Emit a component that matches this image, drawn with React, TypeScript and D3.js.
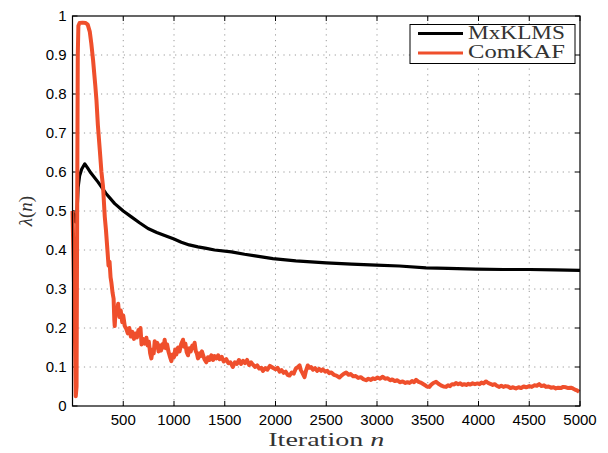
import React from 'react';
import * as d3 from 'd3';

// iteration / lambda(n)
const mxklmsPoints: [number, number][] = [
  [0, 0.5], [15, 0.49], [30, 0.472], [42, 0.48], [55, 0.56], [70, 0.59], [90, 0.607], [121, 0.621],
  [150, 0.61], [180, 0.598], [252, 0.574], [330, 0.545], [416, 0.519], [500, 0.5], [580, 0.485],
  [660, 0.47], [744, 0.455], [830, 0.445], [908, 0.437], [1000, 0.428], [1072, 0.42], [1150, 0.413],
  [1236, 0.408], [1320, 0.404], [1400, 0.4], [1565, 0.395], [1695, 0.389], [1800, 0.385],
  [1974, 0.378], [2200, 0.372], [2500, 0.367], [2750, 0.364], [2991, 0.361], [3220, 0.359],
  [3483, 0.354], [3700, 0.353], [3975, 0.351], [4250, 0.35], [4500, 0.35], [4750, 0.349], [5000, 0.348],
];

const comkafPoints: [number, number][] = [
  [0, 0.5], [10, 0.38], [23, 0.2], [32, 0.025], [40, 0.05], [46, 0.5], [52, 0.9], [58, 0.975],
  [70, 0.982], [100, 0.983], [130, 0.982], [150, 0.978], [170, 0.96], [185, 0.93], [203, 0.886],
  [215, 0.85], [225, 0.82], [236, 0.784], [250, 0.72], [269, 0.656], [285, 0.6], [301, 0.562],
  [318, 0.485], [330, 0.45], [344, 0.4], [355, 0.36], [365, 0.37], [375, 0.33], [384, 0.315],
  [395, 0.29], [405, 0.275], [412, 0.22], [416, 0.205], [425, 0.25], [435, 0.235],
  [450, 0.262], [462, 0.228], [475, 0.245], [490, 0.215], [500, 0.232], [515, 0.205], [530, 0.198],
  [545, 0.186], [560, 0.2], [575, 0.178], [590, 0.19], [605, 0.172], [620, 0.186], [635, 0.176],
  [650, 0.195], [662, 0.182], [670, 0.2], [680, 0.158], [695, 0.172], [710, 0.16], [728, 0.175],
  [740, 0.155], [752, 0.165], [765, 0.135], [777, 0.122], [790, 0.145], [800, 0.135], [810, 0.166],
  [822, 0.15], [835, 0.162], [848, 0.14], [860, 0.155], [872, 0.142], [885, 0.158], [897, 0.15],
  [908, 0.17], [920, 0.148], [932, 0.158], [945, 0.14], [958, 0.128], [974, 0.115], [985, 0.132],
  [1000, 0.125], [1012, 0.145], [1023, 0.132], [1040, 0.15], [1055, 0.14], [1070, 0.158],
  [1089, 0.17], [1100, 0.152], [1112, 0.16], [1125, 0.138], [1138, 0.13], [1150, 0.148],
  [1165, 0.14], [1180, 0.155], [1192, 0.148], [1203, 0.162], [1215, 0.14], [1225, 0.135],
  [1236, 0.122], [1250, 0.135], [1262, 0.128], [1275, 0.14], [1285, 0.132], [1300, 0.12],
  [1318, 0.112], [1335, 0.125], [1350, 0.118], [1368, 0.13], [1385, 0.118], [1400, 0.128],
  [1417, 0.122], [1435, 0.13], [1450, 0.12], [1470, 0.126], [1490, 0.114], [1515, 0.12],
  [1535, 0.11], [1555, 0.112], [1580, 0.1], [1600, 0.112], [1620, 0.108], [1640, 0.118],
  [1660, 0.108], [1680, 0.116], [1700, 0.11], [1720, 0.118], [1740, 0.105], [1760, 0.112],
  [1777, 0.106], [1800, 0.1], [1820, 0.104], [1840, 0.096], [1860, 0.098], [1876, 0.09],
  [1900, 0.097], [1920, 0.093], [1945, 0.103], [1974, 0.098], [2000, 0.094], [2020, 0.098],
  [2040, 0.088], [2060, 0.092], [2080, 0.085], [2100, 0.088], [2120, 0.08], [2138, 0.078],
  [2160, 0.086], [2180, 0.083], [2200, 0.096], [2220, 0.1], [2237, 0.104], [2250, 0.092],
  [2265, 0.085], [2286, 0.074], [2300, 0.09], [2318, 0.104], [2335, 0.098], [2350, 0.1],
  [2370, 0.093], [2390, 0.097], [2410, 0.09], [2430, 0.095], [2450, 0.09], [2466, 0.094],
  [2490, 0.088], [2510, 0.09], [2530, 0.084], [2550, 0.086], [2575, 0.08], [2600, 0.078],
  [2630, 0.073], [2650, 0.078], [2670, 0.082], [2696, 0.086], [2720, 0.08], [2740, 0.082],
  [2765, 0.076], [2790, 0.077], [2815, 0.072], [2840, 0.074], [2865, 0.069], [2893, 0.066],
  [2915, 0.07], [2940, 0.067], [2960, 0.071], [2980, 0.069], [3005, 0.073], [3030, 0.07],
  [3057, 0.075], [3080, 0.07], [3105, 0.071], [3130, 0.066], [3150, 0.068], [3175, 0.064],
  [3200, 0.066], [3225, 0.061], [3253, 0.063], [3280, 0.059], [3300, 0.061], [3320, 0.059],
  [3345, 0.064], [3365, 0.061], [3385, 0.067], [3410, 0.062], [3430, 0.06], [3450, 0.057],
  [3470, 0.054], [3490, 0.05], [3516, 0.049], [3535, 0.055], [3555, 0.059], [3582, 0.062],
  [3605, 0.057], [3630, 0.053], [3655, 0.05], [3680, 0.049], [3700, 0.053], [3720, 0.051],
  [3740, 0.056], [3760, 0.055], [3778, 0.059], [3800, 0.056], [3820, 0.058], [3840, 0.054],
  [3860, 0.056], [3880, 0.054], [3900, 0.057], [3920, 0.055], [3942, 0.058], [3965, 0.056],
  [3990, 0.058], [4010, 0.056], [4030, 0.06], [4050, 0.058], [4074, 0.063], [4095, 0.059],
  [4115, 0.057], [4140, 0.054], [4160, 0.056], [4180, 0.052], [4205, 0.049], [4225, 0.052],
  [4245, 0.049], [4265, 0.051], [4290, 0.05], [4315, 0.046], [4340, 0.048], [4369, 0.045],
  [4395, 0.048], [4420, 0.046], [4445, 0.05], [4470, 0.048], [4500, 0.051], [4525, 0.049],
  [4550, 0.053], [4575, 0.052], [4598, 0.056], [4620, 0.051], [4645, 0.053], [4665, 0.049],
  [4690, 0.05], [4715, 0.047], [4740, 0.048], [4762, 0.045], [4785, 0.047], [4810, 0.046],
  [4835, 0.049], [4861, 0.048], [4885, 0.046], [4910, 0.047], [4930, 0.045], [4950, 0.042],
  [4970, 0.04], [4992, 0.036],
];

const xTicks = [500, 1000, 1500, 2000, 2500, 3000, 3500, 4000, 4500, 5000];
const yTicks = [0, 0.1, 0.2, 0.3, 0.4, 0.5, 0.6, 0.7, 0.8, 0.9, 1];
const seriesNames = ['MxKLMS', 'ComKAF'];

const RED = '#ef4f2c';
const W = 608;
const H = 453;
const margin = { top: 16, right: 28, bottom: 47, left: 72.5 };
const sansFont = '"Liberation Sans", Arial, sans-serif';
const serifFont = '"Liberation Serif", "Times New Roman", serif';

const App = () => {
  const x = d3.scaleLinear().domain([0, 5000]).range([margin.left, W - margin.right]);
  const y = d3.scaleLinear().domain([0, 1]).range([H - margin.bottom, margin.top]);
  const [x0, x1] = x.range();
  const [y0, y1] = y.range();

  const line = d3.line<[number, number]>()
    .x(d => x(d[0]))
    .y(d => y(d[1]));

  const tickLen = 5;

  return (
    <svg width={W} height={H} style={{ position: 'absolute', left: 0, top: 0, background: '#fff' }}>
      {/* grid */}
      <g stroke="#9a9a9a" strokeWidth={1} strokeDasharray="1.2,4.5">
        {xTicks.filter(t => t < 5000).map(t => (
          <line key={'gx' + t} x1={x(t)} x2={x(t)} y1={y0} y2={y1} />
        ))}
        {yTicks.filter(t => t > 0 && t < 1).map(t => (
          <line key={'gy' + t} x1={x0} x2={x1} y1={y(t)} y2={y(t)} />
        ))}
      </g>

      {/* ticks, inward on all four sides */}
      <g stroke="#000" strokeWidth={1}>
        {xTicks.map(t => (
          <g key={'tx' + t}>
            <line x1={x(t)} x2={x(t)} y1={y0} y2={y0 - tickLen} />
            <line x1={x(t)} x2={x(t)} y1={y1} y2={y1 + tickLen} />
          </g>
        ))}
        {yTicks.map(t => (
          <g key={'ty' + t}>
            <line x1={x0} x2={x0 + tickLen} y1={y(t)} y2={y(t)} />
            <line x1={x1} x2={x1 - tickLen} y1={y(t)} y2={y(t)} />
          </g>
        ))}
      </g>

      {/* series */}
      <path d={line(mxklmsPoints) ?? ''} fill="none" stroke="#000" strokeWidth={3.2} strokeLinejoin="round" />
      <path d={line(comkafPoints) ?? ''} fill="none" stroke={RED} strokeWidth={4} strokeLinejoin="round" />

      {/* frame */}
      <rect x={x0} y={y1} width={x1 - x0} height={y0 - y1} fill="none" stroke="#000" strokeWidth={1.2} />

      {/* tick labels */}
      <g fontFamily={sansFont} fontSize={15} fill="#000">
        {xTicks.map(t => (
          <text key={'lx' + t} x={x(t)} y={y0 + 19} textAnchor="middle">{t}</text>
        ))}
        {yTicks.map(t => (
          <text key={'ly' + t} x={x0 - 6} y={y(t) + 5} textAnchor="end">{d3.format('~g')(t)}</text>
        ))}
      </g>

      {/* axis labels */}
      <text x={(x0 + x1) / 2} y={446} textAnchor="middle" fontFamily={serifFont} fontSize={19} fill="#333"
        textLength={116} lengthAdjust="spacingAndGlyphs">
        Iteration <tspan fontStyle="italic">n</tspan>
      </text>
      <text transform={`translate(32,${(y0 + y1) / 2}) rotate(-90)`} textAnchor="middle"
        fontFamily={serifFont} fontSize={19} fill="#333">
        <tspan fontStyle="italic">λ</tspan>(<tspan fontStyle="italic">n</tspan>)
      </text>

      {/* legend */}
      <g>
        <rect x={410} y={24.5} width={165} height={39} fill="#fff" stroke="#000" strokeWidth={1} />
        {seriesNames.map((name, i) => (
          <g key={name} transform={`translate(0,${i * 19.5})`}>
            <line x1={418} x2={463} y1={33.5} y2={33.5} stroke={i === 0 ? '#000' : RED} strokeWidth={3} />
            <text x={468} y={38.5} fontFamily={serifFont} fontSize={19} fill="#333"
              textLength={97} lengthAdjust="spacingAndGlyphs">{name}</text>
          </g>
        ))}
      </g>
    </svg>
  );
};

export default App;
